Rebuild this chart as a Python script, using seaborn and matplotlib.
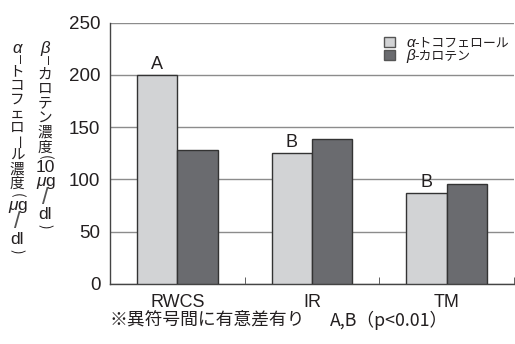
import matplotlib
matplotlib.use("Agg")
import matplotlib.pyplot as plt
from matplotlib.patches import Patch
import seaborn as sns
import pandas as pd

# ---- data ----
categories = ["RWCS", "IR", "TM"]
series = ["α-トコフェロール", "β-カロテン"]
tocopherol = [200, 125, 87]      # μg/dl
carotene = [128, 139, 96]        # 10 μg/dl
sig_labels = ["A", "B", "B"]
yticks = [0, 50, 100, 150, 200, 250]
footnote_main = "※異符号間に有意差有り"
footnote_sig = "A,B（p<0.01）"

LIGHT = "#d2d3d5"
DARK = "#6a6b6f"
EDGE = "#333333"
GRID = "#8c8c8c"
INK = "#231f20"
JP = ["Noto Sans CJK JP", "DejaVu Sans"]
LAT = ["Liberation Sans", "DejaVu Sans"]

df = pd.DataFrame({
    "group": categories * 2,
    "series": [series[0]] * len(categories) + [series[1]] * len(categories),
    "value": tocopherol + carotene,
})

W, H = 515, 344
fig = plt.figure(figsize=(W / 100, H / 100), dpi=100)
ax = fig.add_axes([110 / W, 1 - 284 / H, 404 / W, (284 - 22.7) / H])

sns.barplot(data=df, x="group", y="value", hue="series",
            order=categories, hue_order=series, palette=[LIGHT, DARK],
            saturation=1, width=0.6, gap=0, errorbar=None,
            edgecolor=EDGE, linewidth=1, legend=False, ax=ax, zorder=3)

ax.set_xlim(-0.5, len(categories) - 0.5)
ax.set_ylim(yticks[0], yticks[-1])
ax.set_yticks(yticks)
ax.set_xlabel("")
ax.set_ylabel("")
ax.yaxis.grid(True, color=GRID, linewidth=1)
ax.set_axisbelow(True)
for s in ("top", "right"):
    ax.spines[s].set_visible(False)
for s in ("left", "bottom"):
    ax.spines[s].set_color("#444444")
    ax.spines[s].set_linewidth(1)

ax.tick_params(axis="y", length=0, pad=7, labelsize=13.5, labelcolor=INK)
ax.tick_params(axis="x", which="major", length=0, pad=7, labelsize=13, labelcolor=INK)
ax.set_xticks([i + 0.5 for i in range(len(categories))], minor=True)
ax.tick_params(axis="x", which="minor", direction="in", length=5, color="#444444")
for lab in ax.get_xticklabels() + ax.get_yticklabels():
    lab.set_family(LAT)

# significance letters above the α-tocopherol bars
for bar, lab in zip(ax.containers[0], sig_labels):
    ax.annotate(lab, (bar.get_x() + bar.get_width() / 2, bar.get_height()),
                xytext=(0, 1.5), textcoords="offset points",
                ha="center", va="bottom", fontsize=13, family=LAT, color=INK)

# legend: square swatches, Greek prefix added in italics afterwards
handles = [Patch(facecolor=LIGHT, edgecolor="#555555", linewidth=1),
           Patch(facecolor=DARK, edgecolor="#555555", linewidth=1)]
labels = [s[1:] for s in series]
leg = ax.legend(handles, labels, loc="upper left",
                bbox_to_anchor=(378 / W, 1 - 30 / H), bbox_transform=fig.transFigure,
                frameon=False, borderpad=0, handlelength=0.8, handleheight=0.8,
                handletextpad=1.5, labelspacing=0.0,
                prop={"family": JP, "size": 9.3})
for t in leg.get_texts():
    t.set_color(INK)

fig.canvas.draw()
inv = fig.transFigure.inverted()
for t, s in zip(leg.get_texts(), series):
    bb = t.get_window_extent()
    x0, y0 = inv.transform((bb.x0 + 1, (bb.y0 + bb.y1) / 2))
    fig.text(x0, y0, s[0], ha="right", va="center", fontsize=11,
             family=LAT, style="italic", color=INK)


def px(x, y):
    return x / W, 1 - y / H


def vertical_label(x, y, tokens):
    """Stack tokens top to bottom, each upright, as in vertical Japanese text."""
    for tok in tokens:
        text, adv = tok[0], tok[1]
        kw = dict(ha="center", va="center", color=INK, fontsize=10.5, family=JP,
                  rotation_mode="anchor")
        kw.update(tok[2] if len(tok) > 2 else {})
        cy = y + adv / 2
        if text == "μg":
            fig.text(*px(x + 0.5, cy), "μ", **{**kw, "ha": "right", "family": LAT,
                                                "style": "italic", "fontsize": 12.5})
            fig.text(*px(x + 0.5, cy), "g", **{**kw, "ha": "left", "family": LAT,
                                                "fontsize": 12.5})
        else:
            fig.text(*px(x, cy), text, **kw)
        y += adv


greek = {"family": LAT, "style": "italic", "fontsize": 12}
latin = {"family": LAT, "fontsize": 12.5}
slash = {"family": LAT, "fontsize": 17, "color": "#555555"}
dash = {"rotation": -90, "fontsize": 8}
bar_v = {"rotation": -90}
paren = {"rotation": -90, "fontsize": 10}
col_a = [("α", 13, greek), ("ー", 10, dash),
         ("ト", 14), ("コ", 14), ("フ", 14), ("ェ", 14), ("ロ", 14),
         ("ー", 14, bar_v), ("ル", 14), ("濃", 14), ("度", 14),
         ("(", 8, paren), ("μg", 14), ("/", 18, slash),
         ("dl", 16, latin), (")", 9, paren)]
col_b = [("β", 13, greek), ("ー", 12, dash),
         ("カ", 14.6), ("ロ", 14.6), ("テ", 14.6), ("ン", 14.6), ("濃", 14.6), ("度", 14.6),
         ("(", 6, paren), ("10", 14, latin), ("μg", 14), ("/", 18, slash),
         ("dl", 16, latin), (")", 8, paren)]
vertical_label(17, 42, col_a)
vertical_label(45, 42, col_b)

fig.text(*px(109, 320), footnote_main, ha="left", va="center", fontsize=12.8,
         family=JP, color=INK)
fig.text(*px(330, 320), footnote_sig, ha="left", va="center", fontsize=12.8,
         family=JP, color=INK)

fig.savefig("out.png", dpi=100)
